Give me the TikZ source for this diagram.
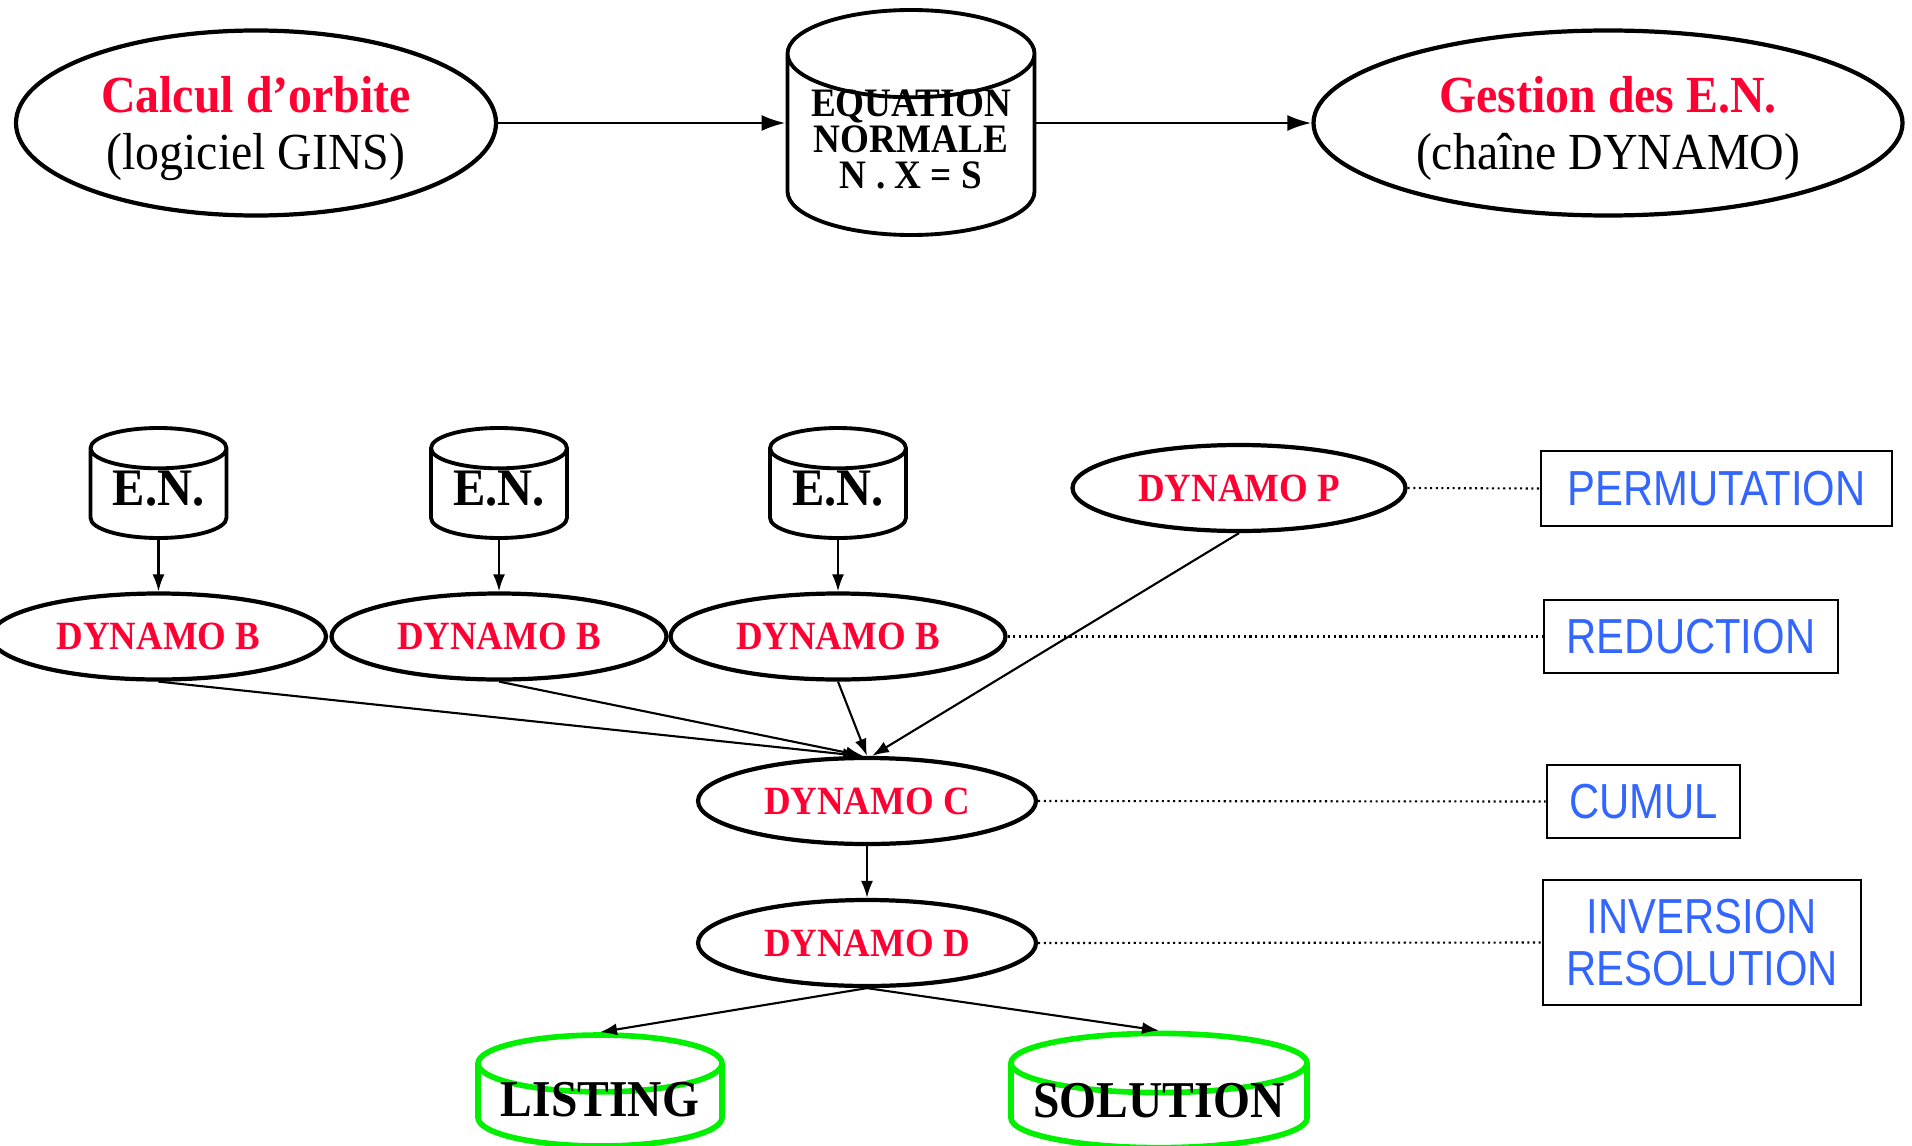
\documentclass[tikz,border=0pt]{standalone}
\usepackage{fontspec}
\setmainfont{Liberation Serif}[FakeStretch=0.92]
\newfontfamily\boxfont{Liberation Sans}[FakeStretch=0.85]
\usetikzlibrary{shapes.geometric,arrows.meta}
\definecolor{enred}{RGB}{255,0,51}
\definecolor{enblue}{RGB}{51,102,255}
\definecolor{engreen}{RGB}{0,240,0}

\begin{document}
\begin{tikzpicture}[
  proc/.style={draw,ellipse,line width=1.2pt,inner sep=0pt,align=center},
  dyn/.style={proc,minimum width=3.35cm,minimum height=0.86cm,text=enred,
    font=\fontsize{11.4}{12}\selectfont\bfseries},
  disk/.style={draw,cylinder,shape border rotate=90,anchor=shape center,
    line width=1.1pt,inner sep=0pt,align=center},
  en/.style={disk,minimum width=1.36cm,minimum height=1.10cm,aspect=0.44,text height=6.5pt,
    font=\fontsize{15}{15}\selectfont\bfseries},
  result/.style={disk,draw=engreen,line width=1.6pt,minimum height=1.11cm,text height=6.3pt,
    font=\fontsize{14.7}{15}\selectfont\bfseries},
  tag/.style={draw,rectangle,line width=0.8pt,inner sep=0pt,text=enblue,align=center,
    font=\boxfont\fontsize{14}{15}\selectfont},
  flow/.style={-{Latex[length=1.7mm,width=1.2mm]},line width=0.6pt},
  link/.style={densely dotted,line width=0.6pt}
]
\useasboundingbox (0,0) rectangle (19.12,11.45);

  % chaine principale
  \draw (2.56,10.22) node[proc,minimum width=4.80cm,minimum height=1.85cm,text depth=0pt,
    font=\fontsize{14.8}{16.4}\selectfont] (calcul)
    {\textcolor{enred}{\bfseries Calcul d'orbite}\\(logiciel GINS)};
  \draw (9.11,10.225) node[disk,minimum width=2.47cm,minimum height=2.25cm,aspect=0.437,
    text height=24.6pt,font=\fontsize{11.5}{10.2}\selectfont\bfseries] (eqn)
    {EQUATION\\NORMALE\\N . X = S};
  \draw (16.08,10.22) node[proc,minimum width=5.89cm,minimum height=1.85cm,text depth=0pt,
    font=\fontsize{14.8}{16.4}\selectfont] (gestion)
    {\textcolor{enred}{\bfseries Gestion des E.N.}\\(cha\^ine DYNAMO)};

  \draw[-{Latex[length=2.4mm,width=1.6mm]},line width=0.8pt] (calcul.east) -- (calcul.east -| eqn.west);
  \draw[-{Latex[length=2.4mm,width=1.6mm]},line width=0.8pt] (gestion.west -| eqn.east) -- (gestion.west);

  % chaine DYNAMO
  \draw (1.585,6.62) node[en] (en1) {E.N.};
  \draw (4.99,6.62) node[en] (en2) {E.N.};
  \draw (8.38,6.62) node[en] (en3) {E.N.};

  \draw (1.585,5.085) node[dyn] (dynB1) {DYNAMO B};
  \draw (4.99,5.085) node[dyn] (dynB2) {DYNAMO B};
  \draw (8.38,5.085) node[dyn] (dynB3) {DYNAMO B};
  \draw (12.39,6.57) node[dyn,minimum width=3.33cm] (dynP) {DYNAMO P};
  \draw (8.67,3.44) node[dyn,minimum width=3.38cm] (dynC) {DYNAMO C};
  \draw (8.67,2.02) node[dyn,minimum width=3.38cm] (dynD) {DYNAMO D};

  \draw (6.00,0.545) node[result,minimum width=2.44cm,aspect=0.287] (listing) {LISTING};
  \draw (11.59,0.545) node[result,minimum width=2.96cm,aspect=0.236] (solution) {SOLUTION};

  \draw[flow] (en1) -- (dynB1);
  \draw[flow] (en2) -- (dynB2);
  \draw[flow] (en3) -- (dynB3);
  \draw[flow] (dynB1.south) -- ([xshift=-0.07cm]dynC.north);
  \draw[flow] (dynB2.south) -- ([xshift=-0.04cm]dynC.north);
  \draw[flow] (dynB3.south) -- (dynC.north);
  \draw[flow] (dynP.south) -- ([xshift=0.05cm]dynC.north);
  \draw[flow] (dynC) -- (dynD);
  \draw[flow] (dynD.south) -- (listing.north);
  \draw[flow] (dynD.south) -- (solution.north);

  % etapes
  \draw (17.165,6.565) node[tag,minimum width=3.51cm,minimum height=0.75cm] (perm) {PERMUTATION};
  \draw (16.91,5.085) node[tag,minimum width=2.94cm,minimum height=0.73cm] (reduc) {REDUCTION};
  \draw (16.435,3.435) node[tag,minimum width=1.93cm,minimum height=0.73cm] (cumul) {CUMUL};
  \draw (17.02,2.025) node[tag,minimum width=3.18cm,minimum height=1.25cm] (invres) {INVERSION\\RESOLUTION};

  \draw[link] (dynP.east) -- (perm.west);
  \draw[link] (dynB3.east) -- (reduc.west);
  \draw[link] (dynC.east) -- (cumul.west);
  \draw[link] (dynD.east) -- (invres.west);

\end{tikzpicture}
\end{document}
